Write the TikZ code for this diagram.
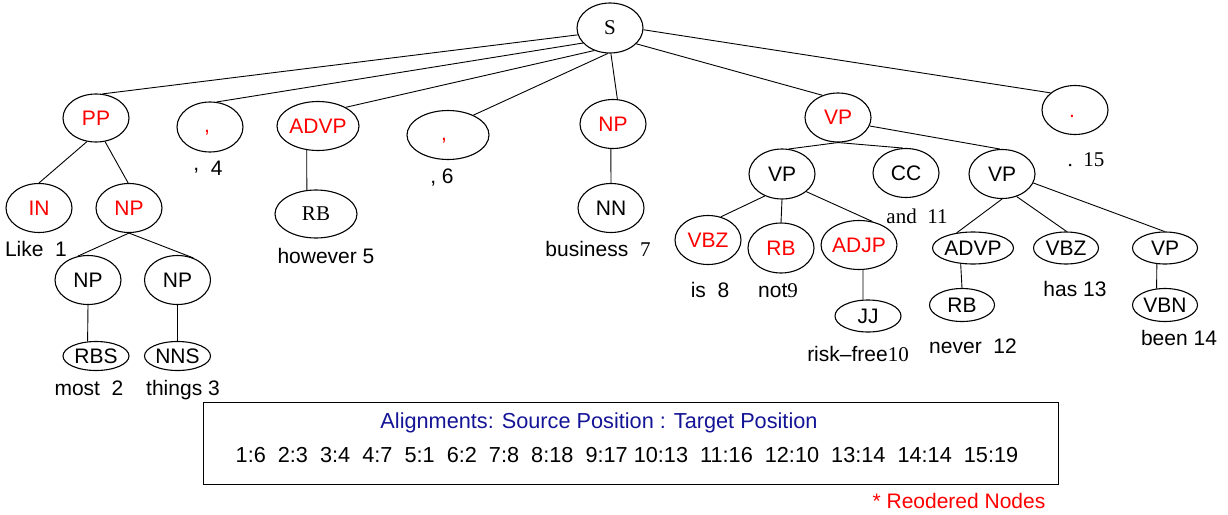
\documentclass[tikz,border=0pt]{standalone}
\usepackage{fontspec}
\setmainfont{Liberation Sans}
\newfontfamily\tms{Liberation Serif}
\usetikzlibrary{shapes.geometric}
\definecolor{alblue}{RGB}{20,20,150}
\begin{document}
\begin{tikzpicture}[x=1pt,y=-1pt,
  ell/.style={ellipse, draw, line width=1.1pt, inner sep=0pt, font=\fontsize{21}{24}\selectfont},
  sz/.style 2 args={minimum width=#1pt, minimum height=#2pt},
  rd/.style={text=red},
  wd/.style={anchor=base, inner sep=0pt, font=\fontsize{21}{24}\selectfont},
  bx/.style={anchor=base, inner sep=0pt, font=\fontsize{21.7}{24}\selectfont},
  br/.style={line width=0.9pt}]
\useasboundingbox (0,0) rectangle (1228,514);
% nodes
\node[ell,sz={66}{50}] (S) at (610,28) {\tms S};
\node[ell,rd,sz={66}{48}] (PP) at (96,118) {PP};
\node[ell,rd,sz={66}{50}] (c1) at (210,127) {\makebox[12pt][l]{,}\vphantom{P}};
\node[ell,rd,sz={82}{49}] (ADVPr) at (318,126) {ADVP};
\node[ell,rd,sz={82}{49}] (c2) at (448,135) {\makebox[14pt][l]{,}\vphantom{P}};
\node[ell,rd,sz={66}{49}] (NPb) at (613,124) {NP};
\node[ell,rd,sz={66}{49}] (VPr) at (838,117.5) {VP};
\node[ell,rd,sz={66}{49}] (dot) at (1075,110) {\makebox[12pt][l]{.}\vphantom{P}};
\node[ell,rd,sz={66}{49}] (IN) at (39,208) {IN};
\node[ell,rd,sz={66}{49}] (NPr) at (129,208) {NP};
\node[ell,sz={66}{49}] (NP1) at (88,280) {NP};
\node[ell,sz={66}{49}] (NP2) at (177.5,280) {NP};
\node[ell,sz={66}{29}] (RBS) at (96,356) {RBS};
\node[ell,sz={66}{29}] (NNS) at (177.5,356) {NNS};
\node[ell,sz={82}{48}] (RBs) at (316,214) {\tms RB};
\node[ell,sz={66}{49}] (NN) at (611,208) {NN};
\node[ell,sz={66}{50}] (VP1) at (782,174) {VP};
\node[ell,sz={66}{49}] (CC) at (906,173) {CC};
\node[ell,sz={66}{49}] (VP2) at (1002,174) {VP};
\node[ell,rd,sz={66}{49}] (VBZr) at (708,240) {VBZ};
\node[ell,rd,sz={66}{50}] (RBr) at (781,248) {RB};
\node[ell,rd,sz={66}{49}] (ADJP) at (859,245) {ADJP};
\node[ell,sz={66}{32}] (JJ) at (868,316) {JJ};
\node[ell,sz={81}{32}] (ADVPb) at (973,248) {ADVP};
\node[ell,sz={65}{32}] (VBZb) at (1066,248) {VBZ};
\node[ell,sz={65}{32}] (VPs) at (1165,248) {VP};
\node[ell,sz={65}{33}] (RBb) at (962,305) {RB};
\node[ell,sz={65}{33}] (VBN) at (1165,305) {VBN};
% edges
\draw[br] (S.-168) -- (PP.75);
\draw[br] (S.-151) -- (c1.75);
\draw[br] (S.-125) -- (ADVPr.34);
\draw[br] (S.-95) -- (c2.38);
\draw[br] (S.-88) -- (NPb.80);
\draw[br] (S.-31) -- (VPr.125);
\draw[br] (S.-3) -- (dot.145);
\draw[br] (PP.-111) -- (IN.north);
\draw[br] (PP.-69) -- (NPr.92);
\draw[br] (NPr.south) -- (NP1.113);
\draw[br] (NPr.south) -- (NP2.54);
\draw[br] (NP1.south) -- (RBS.120);
\draw[br] (NP2.south) -- (NNS.north);
\draw[br] (ADVPr.-115) -- (RBs.111);
\draw[br] (NPb.-95) -- (NN.north);
\draw[br] (VPr.south) -- (VP1.75);
\draw[br] (VPr.south) -- (CC.97);
\draw[br] (VPr.-15) -- (VP2.95);
\draw[br] (VP1.-128) -- (VBZr.61);
\draw[br] (VP1.south) -- (RBr.north);
\draw[br] (VP1.-36) -- (ADJP.60);
\draw[br] (ADJP.-81) -- (JJ.107);
\draw[br] (VP2.south) -- (ADVPb.137);
\draw[br] (VP2.-57) -- (VBZb.88);
\draw[br] (VP2.-16) -- (VPs.92);
\draw[br] (ADVPb.-128) -- (RBb.north);
\draw[br] (VPs.-117) -- (VBN.117);
% word labels
\node[wd] (w1) at (36,256) {Like\ \ 1};
\node[wd] (w2) at (89,395) {most\ \ 2};
\node[wd] (w3) at (183,395) {things 3};
\node[wd] (w4) at (208,175) {\raisebox{5pt}{,}\ \ 4};
\node[wd] (w5) at (326,263) {however 5};
\node[wd] (w6) at (442,183) {, 6};
\node[wd] (w7) at (598,256) {business\ \ {\tms 7}};
\node[wd] (w8) at (710,297) {is\ \ 8};
\node[wd] (w9) at (778,297) {not{\tms 9}};
\node[wd] (w10) at (858,361) {risk–free{\tms 10}};
\node[wd] (w11) at (917,223) {\tms and\ \ 11};
\node[wd] (w12) at (973,353) {never\ \ 12};
\node[wd] (w13) at (1075,296) {has 13};
\node[wd] (w14) at (1179,345) {been 14};
\node[wd] (w15) at (1086,166) {\tms .\ \ 15};
% alignment box
\node[draw, line width=0.9pt, minimum width=855pt, minimum height=82pt, inner sep=0pt] (box) at (630.5,443.5) {};
\node[bx, text=alblue] (al) at (599,428) {Alignments: Source Position : Target Position};
\node[bx] (nums) at (627,462) {1:6\ \ 2:3\ \ 3:4\ \ 4:7\ \ 5:1\ \ 6:2\ \ 7:8\ \ 8:18\ \ 9:17 10:13\ \ 11:16\ \ 12:10\ \ 13:14\ \ 14:14\ \ 15:19};
\node[wd, text=red] (ro) at (959,508) {* Reodered Nodes};
\end{tikzpicture}
\end{document}
